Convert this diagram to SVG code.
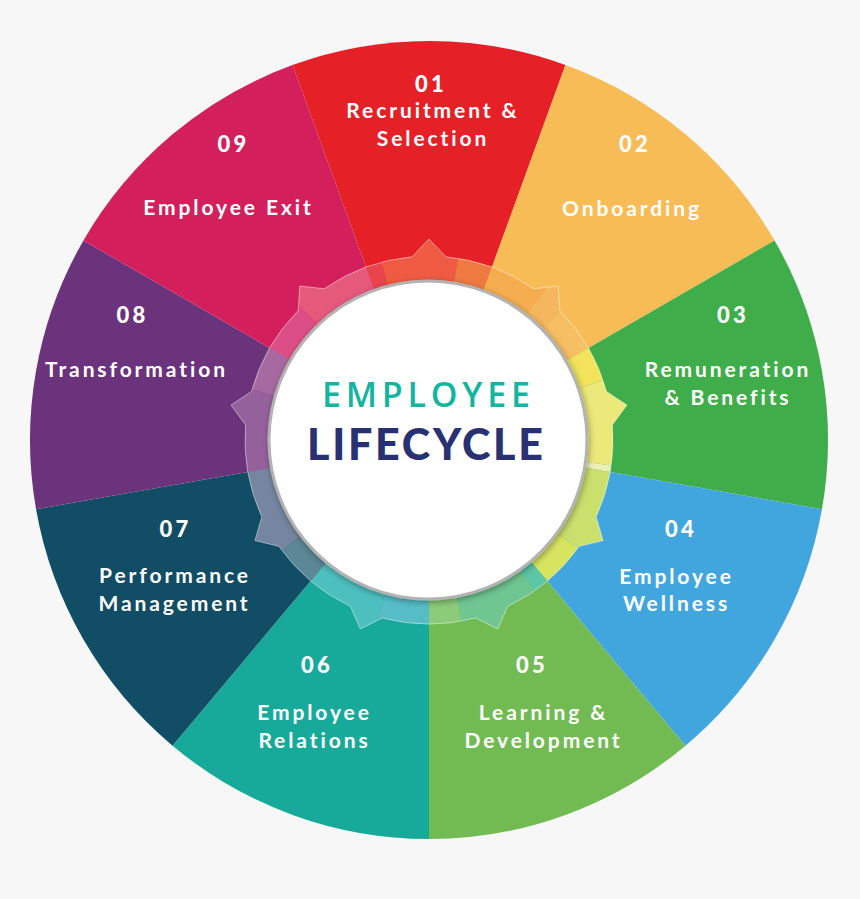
<svg xmlns="http://www.w3.org/2000/svg" width="860" height="899" viewBox="0 0 860 899">
<defs>
<style>
.seg{stroke:none}
.num{font-family:Lato,"Liberation Sans",sans-serif;font-weight:900;font-size:22px;fill:#fff;text-anchor:middle;letter-spacing:3.2px}
.lbl{font-family:Lato,"Liberation Sans",sans-serif;font-weight:700;font-size:21px;fill:#fff;text-anchor:middle;letter-spacing:2.9px}
.rp{fill:none;stroke-width:60;}
</style>
<clipPath id="gearClip">
<path id="gearShape" d="M412.0,256.8 L429,239 L446.0,256.8 A184,184 0 0 1 533.75,288.73 L558.2,286.03 L559.79,310.58 A184,184 0 0 1 606.48,391.45 L626.95,405.1 L612.38,424.92 A184,184 0 0 1 596.17,516.89 L603.07,540.5 L579.17,546.33 A184,184 0 0 1 507.63,606.35 L497.75,628.88 L475.69,617.98 A184,184 0 0 1 382.31,617.98 L360.25,628.88 L350.37,606.35 A184,184 0 0 1 278.83,546.33 L254.93,540.5 L261.83,516.89 A184,184 0 0 1 245.62,424.92 L231.05,405.1 L251.52,391.45 A184,184 0 0 1 298.21,310.58 L299.8,286.03 L324.25,288.73 A184,184 0 0 1 412.0,256.8 Z"/>
</clipPath>
<filter id="shadow" x="-20%" y="-20%" width="140%" height="140%">
<feGaussianBlur in="SourceAlpha" stdDeviation="3"/>
<feOffset dx="1" dy="2" result="b"/>
<feComponentTransfer><feFuncA type="linear" slope="0.35"/></feComponentTransfer>
<feMerge><feMergeNode/><feMergeNode in="SourceGraphic"/></feMerge>
</filter>
</defs>
<rect width="860" height="899" fill="#f7f7f7"/>

<g id="segments">
<path id="seg01" class="seg" fill="#e52027" d="M429,440 L292.53,65.06 A399,399 0 0 1 565.47,65.06 Z"/>
<path id="seg02" class="seg" fill="#f8bc56" d="M429,440 L565.47,65.06 A399,399 0 0 1 774.54,240.5 Z"/>
<path id="seg03" class="seg" fill="#3fae4a" d="M429,440 L774.54,240.5 A399,399 0 0 1 821.94,509.29 Z"/>
<path id="seg04" class="seg" fill="#42a6de" d="M429,440 L821.94,509.29 A399,399 0 0 1 685.47,745.65 Z"/>
<path id="seg05" class="seg" fill="#72bb53" d="M429,440 L685.47,745.65 A399,399 0 0 1 429,839 Z"/>
<path id="seg06" class="seg" fill="#17aa9a" d="M429,440 L429,839 A399,399 0 0 1 172.53,745.65 Z"/>
<path id="seg07" class="seg" fill="#114d64" d="M429,440 L172.53,745.65 A399,399 0 0 1 36.06,509.29 Z"/>
<path id="seg08" class="seg" fill="#6a337c" d="M429,440 L36.06,509.29 A399,399 0 0 1 83.46,240.5 Z"/>
<path id="seg09" class="seg" fill="#d31f5c" d="M429,440 L83.46,240.5 A399,399 0 0 1 292.53,65.06 Z"/>
</g>

<g id="gear">
<g clip-path="url(#gearClip)">
<circle class="rp" cx="429" cy="440" r="180" pathLength="360" stroke="#e9444c" stroke-dasharray="5 355" stroke-dashoffset="-250"/>
<circle class="rp" cx="429" cy="440" r="180" pathLength="360" stroke="#ef5a43" stroke-dasharray="24 336" stroke-dashoffset="-255"/>
<circle class="rp" cx="429" cy="440" r="180" pathLength="360" stroke="#ef7a41" stroke-dasharray="11 349" stroke-dashoffset="-279"/>
<circle class="rp" cx="429" cy="440" r="180" pathLength="360" stroke="#f5ad4f" stroke-dasharray="18 342" stroke-dashoffset="-290"/>
<circle class="rp" cx="429" cy="440" r="180" pathLength="360" stroke="#f5b75e" stroke-dasharray="8 352" stroke-dashoffset="-308"/>
<circle class="rp" cx="429" cy="440" r="180" pathLength="360" stroke="#f7bf63" stroke-dasharray="14 346" stroke-dashoffset="-316"/>
<circle class="rp" cx="429" cy="440" r="180" pathLength="360" stroke="#f2e35b" stroke-dasharray="11 349" stroke-dashoffset="-330"/>
<circle class="rp" cx="429" cy="440" r="180" pathLength="360" stroke="#ece87a" stroke-dasharray="27 333" stroke-dashoffset="-341"/>
<circle class="rp" cx="429" cy="440" r="180" pathLength="360" stroke="#eeeeb8" stroke-dasharray="2 358" stroke-dashoffset="-8"/>
<circle class="rp" cx="429" cy="440" r="180" pathLength="360" stroke="#cadf6c" stroke-dasharray="26 334" stroke-dashoffset="-10"/>
<circle class="rp" cx="429" cy="440" r="180" pathLength="360" stroke="#d7e460" stroke-dasharray="14 346" stroke-dashoffset="-36"/>
<circle class="rp" cx="429" cy="440" r="180" pathLength="360" stroke="#5cc7a6" stroke-dasharray="5 355" stroke-dashoffset="-50"/>
<circle class="rp" cx="429" cy="440" r="180" pathLength="360" stroke="#6fc691" stroke-dasharray="25 335" stroke-dashoffset="-55"/>
<circle class="rp" cx="429" cy="440" r="180" pathLength="360" stroke="#8bcb79" stroke-dasharray="10 350" stroke-dashoffset="-80"/>
<circle class="rp" cx="429" cy="440" r="180" pathLength="360" stroke="#56bdc7" stroke-dasharray="16 344" stroke-dashoffset="-90"/>
<circle class="rp" cx="429" cy="440" r="180" pathLength="360" stroke="#4cbfbe" stroke-dasharray="24 336" stroke-dashoffset="-106"/>
<circle class="rp" cx="429" cy="440" r="180" pathLength="360" stroke="#5b8797" stroke-dasharray="13 347" stroke-dashoffset="-130"/>
<circle class="rp" cx="429" cy="440" r="180" pathLength="360" stroke="#7686a0" stroke-dasharray="27 333" stroke-dashoffset="-143"/>
<circle class="rp" cx="429" cy="440" r="180" pathLength="360" stroke="#95619d" stroke-dasharray="26 334" stroke-dashoffset="-170"/>
<circle class="rp" cx="429" cy="440" r="180" pathLength="360" stroke="#a66aa0" stroke-dasharray="14 346" stroke-dashoffset="-196"/>
<circle class="rp" cx="429" cy="440" r="180" pathLength="360" stroke="#dc4e86" stroke-dasharray="16 344" stroke-dashoffset="-210"/>
<circle class="rp" cx="429" cy="440" r="180" pathLength="360" stroke="#e5597b" stroke-dasharray="24 336" stroke-dashoffset="-226"/>
</g>
<use href="#gearShape" fill="none" stroke="#ffffff" stroke-opacity="0.45" stroke-width="1"/>
</g>

<g id="center">
<circle cx="428" cy="440" r="159" fill="#ffffff" stroke="#b3b3b3" stroke-width="3" filter="url(#shadow)"/>
<text x="426" y="407" font-family="'Open Sans',Lato,'Liberation Sans',sans-serif" font-size="34" font-weight="600" fill="#13b5a0" text-anchor="middle" textLength="208" lengthAdjust="spacing">EMPLOYEE</text>
<text x="425" y="460" font-family="Lato,'Liberation Sans',sans-serif" font-size="43" font-weight="900" fill="#283272" text-anchor="middle" textLength="236" lengthAdjust="spacing">LIFECYCLE</text>
</g>

<g id="labels">
<g id="node01"><text class="num" x="431" y="92">01</text><text class="lbl" x="433" y="117.5">Recruitment &amp;</text><text class="lbl" x="433" y="145.5">Selection</text></g>
<g id="node02"><text class="num" x="635" y="152">02</text><text class="lbl" x="632" y="215.5">Onboarding</text></g>
<g id="node03"><text class="num" x="733" y="323">03</text><text class="lbl" x="728" y="377">Remuneration</text><text class="lbl" x="728" y="405">&amp; Benefits</text></g>
<g id="node04"><text class="num" x="681" y="537">04</text><text class="lbl" x="676.5" y="584">Employee</text><text class="lbl" x="676.5" y="611">Wellness</text></g>
<g id="node05"><text class="num" x="532" y="672.5">05</text><text class="lbl" x="543.5" y="720">Learning &amp;</text><text class="lbl" x="543.5" y="748">Development</text></g>
<g id="node06"><text class="num" x="317" y="672.5">06</text><text class="lbl" x="314.5" y="720">Employee</text><text class="lbl" x="314.5" y="748">Relations</text></g>
<g id="node07"><text class="num" x="175.5" y="536.5">07</text><text class="lbl" x="175" y="583">Performance</text><text class="lbl" x="174.5" y="610.5">Management</text></g>
<g id="node08"><text class="num" x="132.5" y="323">08</text><text class="lbl" x="136.5" y="377">Transformation</text></g>
<g id="node09"><text class="num" x="233.5" y="152">09</text><text class="lbl" x="228.5" y="215">Employee Exit</text></g>
</g>
</svg>
